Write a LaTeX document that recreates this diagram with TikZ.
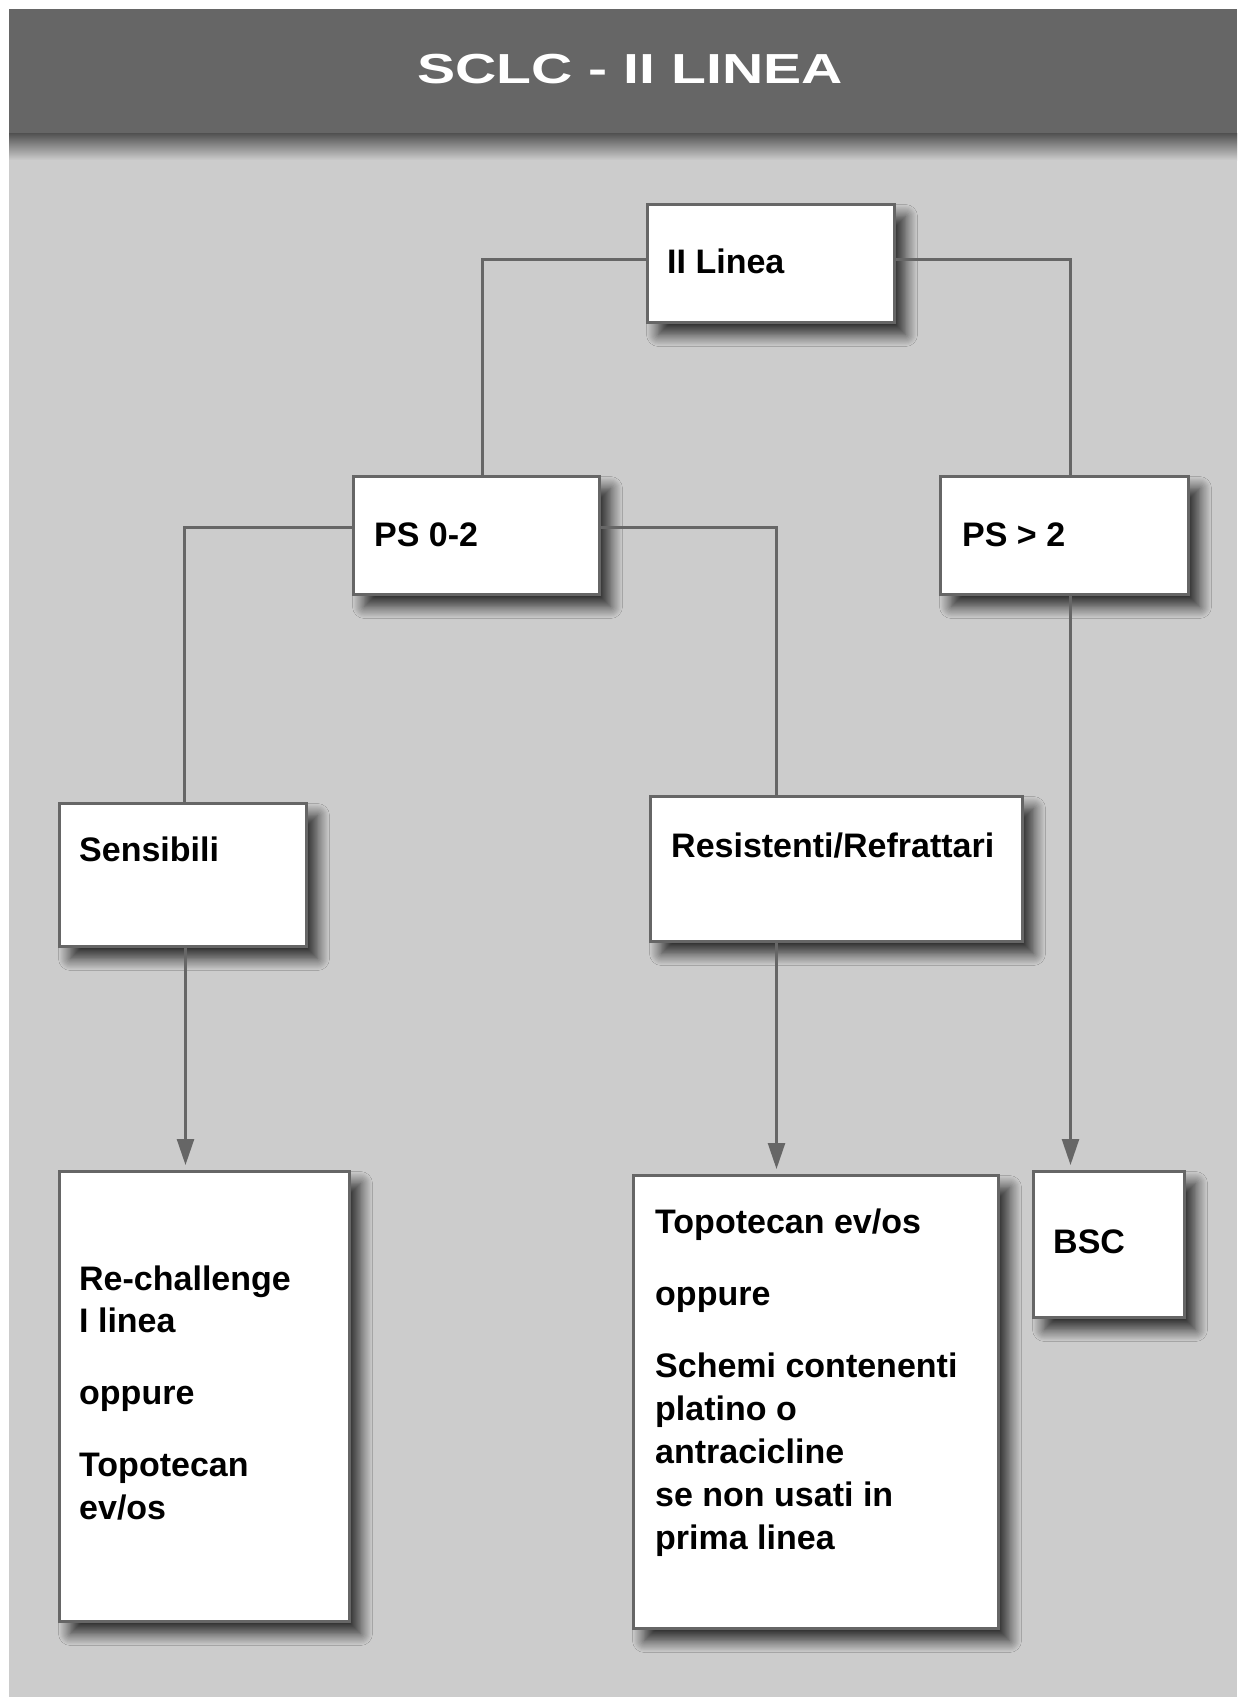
\documentclass[tikz,border=0pt]{standalone}
\usepackage{fontspec}
\setmainfont{Liberation Sans}
\usepackage{graphicx}
\usetikzlibrary{arrows.meta,shadows.blur,calc}
\definecolor{hdr}{HTML}{666666}
\definecolor{bg}{HTML}{CCCCCC}
\definecolor{edge}{HTML}{666666}
\definecolor{hdrshade}{HTML}{505050}

\begin{document}
\begin{tikzpicture}[x=1pt,y=-1pt,
  box/.style={draw=edge, line width=3pt, fill=white, rectangle, inner sep=0pt,
    anchor=north west,
    blur shadow={shadow xshift=11pt, shadow yshift=-12pt,
                 shadow blur radius=12pt, shadow blur steps=12,
                 shadow opacity=80}},
  txt/.style={anchor=base west, inner sep=0pt,
    font=\fontsize{34}{43}\selectfont\bfseries},
  conn/.style={draw=edge, line width=2.5pt},
  arr/.style={conn, -{Triangle[width=17pt,length=26pt]}, shorten >=5pt}]

% page, header band and its shading
\useasboundingbox (0,0) rectangle (1237,1697);
\fill[white] (0,0) rectangle (1237,1697);
\fill[bg] (9,133) rectangle (1237,1697);
\shade[top color=hdrshade, bottom color=bg] (9,133) rectangle (1237,160);
\fill[hdr] (9,9) rectangle (1237,133);
\node[anchor=base, text=white, inner sep=0pt,
  font=\fontsize{42}{42}\selectfont\bfseries] (title) at (630,83)
  {\scalebox{1.36}[1]{SCLC - II LINEA}};

% boxes
\node[box, minimum width=247pt, minimum height=118pt] (b1) at (646,203) {};
\node[box, minimum width=246pt, minimum height=118pt] (b2) at (352,475) {};
\node[box, minimum width=248pt, minimum height=118pt] (b3) at (939,475) {};
\node[box, minimum width=247pt, minimum height=143pt] (b4) at (58,802) {};
\node[box, minimum width=372pt, minimum height=145pt] (b5) at (649,795) {};
\node[box, minimum width=290pt, minimum height=450pt] (b6) at (58,1170) {};
\node[box, minimum width=365pt, minimum height=453pt] (b7) at (632,1174) {};
\node[box, minimum width=151pt, minimum height=146pt] (b8) at (1032,1170) {};

% box texts
\node[txt] (t1) at (667,273) {II Linea};
\node[txt] (t2) at (374,546) {PS 0-2};
\node[txt] (t3) at (962,546) {PS > 2};
\node[txt] (t4) at (79,861) {Sensibili};
\node[txt] (t5) at (671,857) {Resistenti/Refrattari};
\node[txt] (t6a) at (79,1290) {Re-challenge};
\node[txt] (t6b) at (79,1332) {I linea};
\node[txt] (t6c) at (79,1404) {oppure};
\node[txt] (t6d) at (79,1476) {Topotecan};
\node[txt] (t6e) at (79,1519) {ev/os};
\node[txt] (t7a) at (655,1233) {Topotecan ev/os};
\node[txt] (t7b) at (655,1305) {oppure};
\node[txt] (t7c) at (655,1377) {Schemi contenenti};
\node[txt] (t7d) at (655,1420) {platino o};
\node[txt] (t7e) at (655,1463) {antracicline};
\node[txt] (t7f) at (655,1506) {se non usati in};
\node[txt] (t7g) at (655,1549) {prima linea};
\node[txt] (t8) at (1053,1253) {BSC};

% connectors
\draw[conn] ([yshift=4pt]b1.west) -| ([xshift=6pt]b2.north);
\draw[conn] ([yshift=4pt]b1.east) -| ([xshift=6pt]b3.north);
\draw[conn] ([yshift=8pt]b2.west) -| ([xshift=1.5pt]b4.north);
\draw[conn] ([yshift=8pt]b2.east) -| ([xshift=-60pt]b5.north);
\draw[arr] ([xshift=2.5pt]b4.south) -- ([xshift=2.5pt]b4.south |- b6.north);
\draw[arr] ([xshift=-60pt]b5.south) -- ([xshift=-60pt]b5.south |- b7.north);
\draw[arr] ([xshift=6pt]b3.south) -- ([xshift=6pt]b3.south |- b8.north);
\end{tikzpicture}
\end{document}
